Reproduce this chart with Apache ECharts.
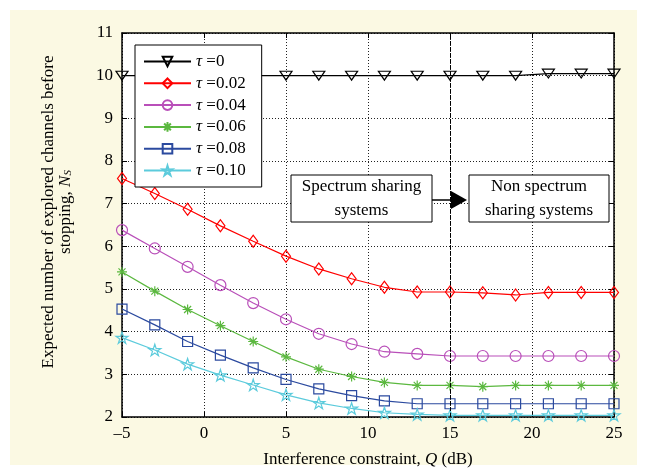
<!DOCTYPE html>
<html>
<head>
<meta charset="utf-8">
<script src="https://cdn.jsdelivr.net/npm/echarts@6/dist/echarts.min.js"></script>
<style>
  body { margin: 0; background: #fff; }
  #wrap { position: relative; width: 647px; height: 475px; }
  #paper { position: absolute; left: 10px; top: 10px; width: 627px; height: 455px; background: #fbf9e3; }
  #main { position: absolute; left: 0; top: 0; width: 647px; height: 475px; }
</style>
</head>
<body>
<div id="wrap">
  <div id="paper"></div>
  <div id="main"></div>
</div>
<script>
// interference constraint Q (dB)
var qValues = [-5, -3, -1, 1, 3, 5, 7, 9, 11, 13, 15, 17, 19, 21, 23, 25];
var tauLabels = ['0', '0.02', '0.04', '0.06', '0.08', '0.10'];

var ns_t000 = [10, 10, 10, 10, 10, 10, 10, 10, 10, 10, 10, 10, 10, 10.05, 10.05, 10.05];
var ns_t002 = [7.59, 7.24, 6.87, 6.48, 6.12, 5.77, 5.47, 5.24, 5.04, 4.93, 4.93, 4.91, 4.86, 4.92, 4.92, 4.92];
var ns_t004 = [6.38, 5.95, 5.52, 5.09, 4.67, 4.29, 3.95, 3.71, 3.53, 3.48, 3.43, 3.43, 3.43, 3.43, 3.43, 3.43];
var ns_t006 = [5.40, 4.95, 4.52, 4.14, 3.77, 3.41, 3.12, 2.95, 2.81, 2.74, 2.74, 2.71, 2.74, 2.74, 2.74, 2.74];
var ns_t008 = [4.53, 4.16, 3.77, 3.45, 3.15, 2.88, 2.66, 2.50, 2.38, 2.31, 2.31, 2.31, 2.31, 2.31, 2.31, 2.31];
var ns_t010 = [3.86, 3.57, 3.24, 2.98, 2.75, 2.52, 2.33, 2.20, 2.10, 2.06, 2.04, 2.04, 2.04, 2.04, 2.04, 2.04];

var xTicks = [-5, 0, 5, 10, 15, 20, 25];
var yTicks = [2, 3, 4, 5, 6, 7, 8, 9, 10, 11];

var allData = [ns_t000, ns_t002, ns_t004, ns_t006, ns_t008, ns_t010];
var colors = ['#000000', '#ff0000', '#b94fb9', '#5bb83f', '#2b4a9f', '#5ccbdc'];
var symbols = [
  'path://M-1,-0.85L1,-0.85L0,0.9Z',
  'diamond',
  'circle',
  'path://M0,-1L0,1M-1,0L1,0M-0.7,-0.7L0.7,0.7M-0.7,0.7L0.7,-0.7',
  'rect',
  'path://M0,-1L0.223,-0.307L0.951,-0.309L0.361,0.117L0.588,0.809L0,0.38L-0.588,0.809L-0.361,0.117L-0.951,-0.309L-0.223,-0.307Z'
];
var sizes = [[12, 10], [9, 12], [11, 11], [10, 10], [10, 10], [12, 12]];

var serif = '"Liberation Serif", "Times New Roman", serif';

function pairs(arr) {
  return qValues.map(function (q, i) { return [q, arr[i]]; });
}

var series = allData.map(function (arr, i) {
  var s = {
    name: 'τ =' + tauLabels[i],
    type: 'line',
    data: pairs(arr),
    symbol: symbols[i],
    symbolSize: sizes[i],
    symbolKeepAspect: true,
    lineStyle: { color: colors[i], width: 1.2 },
    itemStyle: { color: 'transparent', borderColor: colors[i], borderWidth: 1.2 },
    emphasis: { disabled: true },
    z: 3
  };
  if (i === 0) {
    s.markLine = {
      silent: true,
      symbol: ['none', 'none'],
      label: { show: false },
      lineStyle: { color: '#000', type: [4, 2], width: 1 },
      data: [{ xAxis: 15 }]
    };
  }
  return s;
});

var myChart = echarts.init(document.getElementById('main'));

var labelStyle = { fontFamily: serif, fontSize: 17, color: '#000' };
var frame = { show: true, onZero: false, lineStyle: { color: '#000', width: 1.5 } };
var ticksIn = { show: true, inside: true, length: 5, lineStyle: { color: '#000', width: 1 } };

myChart.setOption({
  animation: false,
  grid: { left: 122, right: 33, top: 33, bottom: 58, show: true, backgroundColor: '#fff', borderWidth: 0 },
  legend: {
    orient: 'vertical',
    left: 135,
    top: 45,
    padding: [8, 16, 8, 8],
    itemWidth: 47,
    itemHeight: 12,
    itemGap: 4.8,
    backgroundColor: '#fff',
    borderColor: '#000',
    borderWidth: 1,
    borderRadius: 0,
    formatter: function (name) { return '{t|τ} ' + name.split(' ')[1]; },
    textStyle: {
      fontFamily: serif, fontSize: 17, color: '#000', lineHeight: 16,
      rich: { t: { fontFamily: serif, fontSize: 17, fontStyle: 'italic', color: '#000', lineHeight: 16 } }
    },
    data: series.map(function (s) { return s.name; })
  },
  xAxis: [{
    type: 'value', min: -5, max: 25, interval: 5,
    axisLine: frame, axisTick: ticksIn,
    splitLine: { show: true, lineStyle: { color: '#222', type: [1, 2], width: 1 } },
    axisLabel: Object.assign({ margin: 8, formatter: function (v) {
      return xTicks.indexOf(v) < 0 ? '' : (v < 0 ? '–' + Math.abs(v) : String(v));
    } }, labelStyle),
    name: 'Interference constraint, {i|Q} (dB)',
    nameLocation: 'middle',
    nameGap: 34,
    nameTextStyle: Object.assign({ rich: { i: { fontFamily: serif, fontSize: 17, fontStyle: 'italic', color: '#000' } } }, labelStyle)
  }, {
    type: 'value', min: -5, max: 25, interval: 5, position: 'top',
    axisLine: frame, axisTick: ticksIn, axisLabel: { show: false }, splitLine: { show: false }
  }],
  yAxis: [{
    type: 'value', min: 2, max: 11, interval: 1,
    axisLine: frame, axisTick: ticksIn,
    splitLine: { show: true, lineStyle: { color: '#222', type: [1, 2], width: 1 } },
    axisLabel: Object.assign({ margin: 9, formatter: function (v) {
      return yTicks.indexOf(v) < 0 ? '' : String(v);
    } }, labelStyle),
    name: 'Expected number of explored channels before\nstopping, {i|N}{s|S}',
    nameLocation: 'middle',
    nameRotate: 90,
    nameGap: 48,
    nameTextStyle: Object.assign({
      lineHeight: 17,
      padding: [0, 0, 0, 26],
      rich: {
        i: { fontFamily: serif, fontSize: 17, fontStyle: 'italic', color: '#000', lineHeight: 17 },
        s: { fontFamily: serif, fontSize: 11, fontStyle: 'italic', color: '#000', verticalAlign: 'bottom', padding: [6, 0, 0, 0], lineHeight: 17 }
      }
    }, labelStyle)
  }, {
    type: 'value', min: 2, max: 11, interval: 1, position: 'right',
    axisLine: frame, axisTick: ticksIn, axisLabel: { show: false }, splitLine: { show: false }
  }],
  graphic: [
    { type: 'rect', shape: { x: 291, y: 175, width: 141, height: 47 }, style: { fill: '#fff', stroke: '#000', lineWidth: 1 }, z: 10 },
    { type: 'text', x: 361.5, y: 198.5, style: { text: 'Spectrum sharing\nsystems', align: 'center', verticalAlign: 'middle', font: '17px ' + serif, lineHeight: 24, fill: '#000' }, z: 11 },
    { type: 'rect', shape: { x: 469, y: 175, width: 140, height: 47 }, style: { fill: '#fff', stroke: '#000', lineWidth: 1 }, z: 10 },
    { type: 'text', x: 539, y: 198.5, style: { text: 'Non spectrum\nsharing systems', align: 'center', verticalAlign: 'middle', font: '17px ' + serif, lineHeight: 24, fill: '#000' }, z: 11 },
    { type: 'line', shape: { x1: 432, y1: 200, x2: 452, y2: 200 }, style: { stroke: '#000', lineWidth: 1.5 }, z: 10 },
    { type: 'polygon', shape: { points: [[451, 191], [467, 200], [451, 209]] }, style: { fill: '#000' }, z: 10 }
  ],
  series: series
});
</script>
</body>
</html>
